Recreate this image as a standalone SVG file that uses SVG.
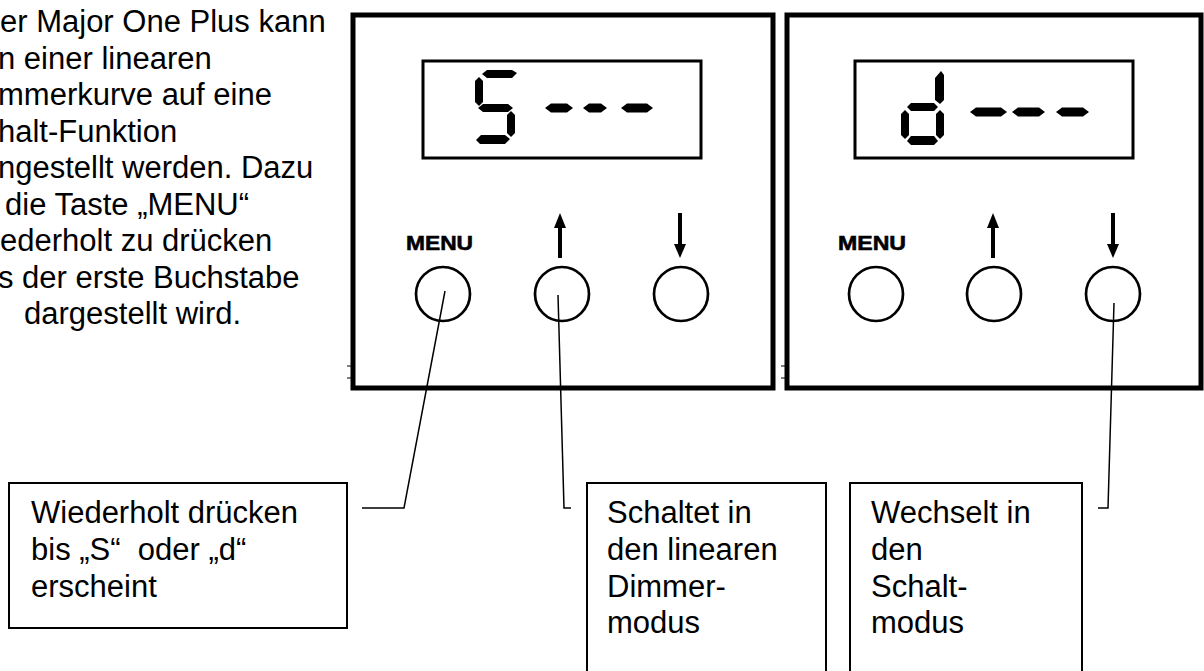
<svg xmlns="http://www.w3.org/2000/svg" width="1204" height="671" viewBox="0 0 1204 671">
<style>
  .txt { font-family: "Liberation Sans", Arial, sans-serif; font-size: 31px; fill: #000; }
  .menu { font-family: "Liberation Sans", Arial, sans-serif; font-size: 21px; font-weight: bold; fill: #000; stroke: #000; stroke-width: 0.6; }
  .panel { fill: #fff; stroke: #000; stroke-width: 5; }
  .disp { fill: none; stroke: #000; stroke-width: 3; }
  .btn { fill: none; stroke: #000; stroke-width: 2.7; }
  .seg { fill: #000; }
  .shaft { stroke: #000; stroke-width: 4; }
  .box { fill: #fff; stroke: #000; stroke-width: 2; }
  .conn { fill: none; stroke: #000; stroke-width: 1.5; }
  .tick { stroke: #000; stroke-width: 1; }
</style>
<rect width="1204" height="671" fill="#fff"/>

<g id="intro-text" class="txt">
  <text x="0" y="32">er Major One Plus kann</text>
  <text x="-2" y="68.5">n einer linearen</text>
  <text x="-2" y="105">mmerkurve auf eine</text>
  <text x="-2" y="141.5">halt-Funktion</text>
  <text x="-2" y="178">ngestellt werden. Dazu</text>
  <text x="5" y="214.5">die Taste „MENU“</text>
  <text x="0" y="251">ederholt zu drücken</text>
  <text x="-2" y="287.5">s der erste Buchstabe</text>
  <text x="24" y="324">dargestellt wird.</text>
</g>

<g id="panel-s">
  <rect class="panel" x="353" y="15" width="420" height="373"/>
  <rect class="disp" x="423" y="61" width="278" height="97"/>
  <polygon class="seg" points="482,74 487,70 512,70 517,73 512,78 487,78"/>
  <polygon class="seg" points="479,77 483,81 483,102 479,106 475,102 475,81"/>
  <polygon class="seg" points="478,108 483,104 508,104 513,108 508,112 483,112"/>
  <polygon class="seg" points="511,111 515,115 515,133 511,137 507,133 507,115"/>
  <polygon class="seg" points="476,140 481,135 505,135 510,139 505,144 480,144"/>
  <polygon class="seg" points="545,108 551,103.5 567,103.5 573,108 567,112.5 551,112.5"/>
  <polygon class="seg" points="583,108 589,103.5 601,103.5 607,108 601,112.5 589,112.5"/>
  <polygon class="seg" points="621,108 627,103.5 647,103.5 653,108 647,112.5 627,112.5"/>
  <text class="menu" x="406" y="250" textLength="67" lengthAdjust="spacingAndGlyphs">MENU</text>
  <line class="shaft" x1="560" y1="258" x2="560" y2="224"/>
  <polygon class="seg" points="560,213 554,228 566,228"/>
  <line class="shaft" x1="680" y1="213" x2="680" y2="247"/>
  <polygon class="seg" points="680,258 674,244 686,244"/>
  <circle class="btn" cx="443" cy="294" r="27"/>
  <circle class="btn" cx="562" cy="294" r="27"/>
  <circle class="btn" cx="681" cy="294" r="27"/>
  <line class="tick" x1="347" y1="366" x2="351" y2="366"/>
  <line class="tick" x1="347" y1="378" x2="351" y2="378"/>
</g>

<g id="panel-d">
  <rect class="panel" x="787" y="15" width="414" height="373"/>
  <rect class="disp" x="855" y="61" width="278" height="97"/>
  <polygon class="seg" points="941,71 944,75 944,100 940,104 935,100 935,78"/>
  <polygon class="seg" points="907,107 911,103 934,103 938,107 934,111 911,111"/>
  <polygon class="seg" points="905,110 909,114 909,135 905,139 901,135 901,114"/>
  <polygon class="seg" points="940,110 944,114 944,135 940,139 936,135 936,114"/>
  <polygon class="seg" points="907,141 911,136 934,136 938,141 934,145 911,145"/>
  <polygon class="seg" points="970,112 976,107.5 1001,107.5 1007,112 1001,116.5 976,116.5"/>
  <polygon class="seg" points="1012,112 1018,107.5 1039,107.5 1045,112 1039,116.5 1018,116.5"/>
  <polygon class="seg" points="1056,112 1062,107.5 1083,107.5 1089,112 1083,116.5 1062,116.5"/>
  <text class="menu" x="838" y="250" textLength="68" lengthAdjust="spacingAndGlyphs">MENU</text>
  <line class="shaft" x1="993" y1="258" x2="993" y2="224"/>
  <polygon class="seg" points="993,213 987,228 999,228"/>
  <line class="shaft" x1="1113" y1="213" x2="1113" y2="247"/>
  <polygon class="seg" points="1113,258 1107,244 1119,244"/>
  <circle class="btn" cx="876" cy="294" r="27"/>
  <circle class="btn" cx="994" cy="294" r="27"/>
  <circle class="btn" cx="1113" cy="294" r="27"/>
  <line class="tick" x1="781" y1="366" x2="785" y2="366"/>
  <line class="tick" x1="781" y1="378" x2="785" y2="378"/>
</g>

<g id="box-menu">
  <rect class="box" x="9" y="483" width="338" height="145"/>
  <text class="txt" x="31" y="523">Wiederholt drücken</text>
  <text class="txt" x="31" y="560">bis „S“&#160; oder „d“</text>
  <text class="txt" x="31" y="597">erscheint</text>
</g>

<g id="box-up">
  <rect class="box" x="587" y="483" width="239" height="200"/>
  <text class="txt" x="607" y="523">Schaltet in</text>
  <text class="txt" x="607" y="560">den linearen</text>
  <text class="txt" x="607" y="597">Dimmer-</text>
  <text class="txt" x="607" y="633">modus</text>
</g>

<g id="box-down">
  <rect class="box" x="850" y="483" width="232" height="200"/>
  <text class="txt" x="871" y="523">Wechselt in</text>
  <text class="txt" x="871" y="560">den</text>
  <text class="txt" x="871" y="597">Schalt-</text>
  <text class="txt" x="871" y="633">modus</text>
</g>

<g id="connectors">
  <polyline class="conn" points="445,291 404,508 362,508"/>
  <polyline class="conn" points="558,295 564,508 571,508"/>
  <polyline class="conn" points="1114,303 1108,508 1098,508"/>
</g>
</svg>
